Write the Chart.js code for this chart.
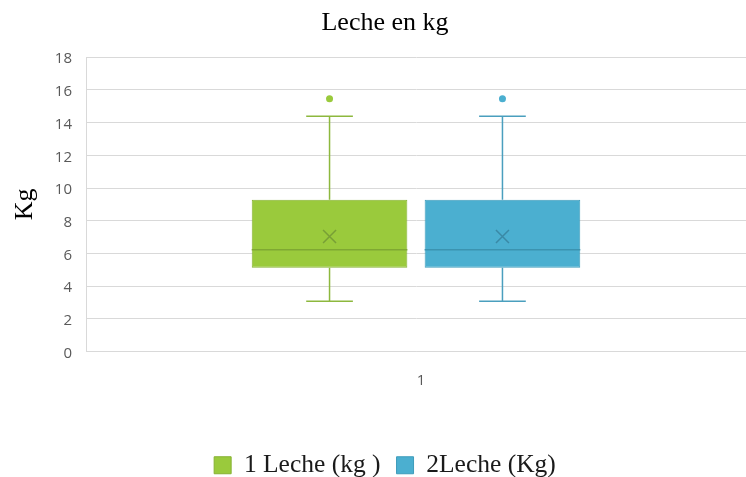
<!DOCTYPE html>
<html>
<head>
<meta charset="utf-8">
<script src="https://cdn.jsdelivr.net/npm/chart.js@4/dist/chart.umd.min.js"></script>
<style>
  html, body { margin: 0; padding: 0; background: #ffffff; }
  #wrap { width: 746px; height: 477px; }
</style>
</head>
<body>
<div id="wrap"><canvas id="c" width="746" height="477"></canvas></div>
<script>
// ---- data ----
const categories = ['1'];
const seriesLabels = ['1 Leche (kg )', '2Leche (Kg)'];
// five-number summary per category: [lower whisker, Q1, median, Q3, upper whisker]
const leche1Box = [[3.08, 5.12, 6.22, 9.28, 14.39]];
const leche1Mean = [7.03];
const leche1Outliers = [[15.46]];
const leche2Box = [[3.08, 5.12, 6.22, 9.28, 14.39]];
const leche2Mean = [7.03];
const leche2Outliers = [[15.46]];
const yTicks = [0, 2, 4, 6, 8, 10, 12, 14, 16, 18];

const styles = [
  { fill: '#9ACA3C', border: '#86B232', line: '#8DB83E', median: '#7FA832', mark: '#789F36' },
  { fill: '#4BAFD0', border: '#3E9CBB', line: '#4A9FBE', median: '#3B93B0', mark: '#3A89A6' }
];

function makeDataset(label, box, mean, outliers, st) {
  return {
    label: label,
    data: box.map(b => [b[1], b[3]]),
    boxStats: box,
    meanVals: mean,
    outlierVals: outliers,
    st: st,
    backgroundColor: st.fill,
    borderColor: st.border,
    borderWidth: 1,
    borderSkipped: false,
    categoryPercentage: 0.524,
    barPercentage: 0.9
  };
}

const boxExtras = {
  id: 'boxExtras',
  afterDatasetsDraw(chart) {
    const ctx = chart.ctx;
    const ys = chart.scales.y;
    chart.data.datasets.forEach((ds, i) => {
      const meta = chart.getDatasetMeta(i);
      const st = ds.st;
      meta.data.forEach((bar, j) => {
        const b = ds.boxStats[j];
        const x = bar.x, w = bar.width;
        const yMin = ys.getPixelForValue(b[0]);
        const yQ1 = ys.getPixelForValue(b[1]);
        const yMed = ys.getPixelForValue(b[2]);
        const yQ3 = ys.getPixelForValue(b[3]);
        const yMax = ys.getPixelForValue(b[4]);
        const cap = w * 0.15;
        ctx.save();
        ctx.strokeStyle = st.line;
        ctx.lineWidth = 1.5;
        ctx.beginPath();
        ctx.moveTo(x, yQ3); ctx.lineTo(x, yMax);
        ctx.moveTo(x - cap, yMax); ctx.lineTo(x + cap, yMax);
        ctx.moveTo(x, yQ1); ctx.lineTo(x, yMin);
        ctx.moveTo(x - cap, yMin); ctx.lineTo(x + cap, yMin);
        ctx.stroke();
        // median
        ctx.strokeStyle = st.median;
        ctx.beginPath();
        ctx.moveTo(x - w / 2, yMed); ctx.lineTo(x + w / 2, yMed);
        ctx.stroke();
        // mean marker (x)
        const yMean = ys.getPixelForValue(ds.meanVals[j]);
        const s = 6.5;
        ctx.strokeStyle = st.mark;
        ctx.lineWidth = 1.5;
        ctx.beginPath();
        ctx.moveTo(x - s, yMean - s); ctx.lineTo(x + s, yMean + s);
        ctx.moveTo(x + s, yMean - s); ctx.lineTo(x - s, yMean + s);
        ctx.stroke();
        // outliers
        ctx.fillStyle = st.fill;
        ds.outlierVals[j].forEach(v => {
          ctx.beginPath();
          ctx.arc(x, ys.getPixelForValue(v), 3.5, 0, Math.PI * 2);
          ctx.fill();
        });
        ctx.restore();
      });
    });
  }
};

new Chart(document.getElementById('c'), {
  type: 'bar',
  data: {
    labels: categories,
    datasets: [
      makeDataset(seriesLabels[0], leche1Box, leche1Mean, leche1Outliers, styles[0]),
      makeDataset(seriesLabels[1], leche2Box, leche2Mean, leche2Outliers, styles[1])
    ]
  },
  options: {
    responsive: false,
    animation: false,
    layout: { padding: { left: 24, right: 0, top: 0, bottom: -11 } },
    plugins: {
      title: {
        display: true,
        text: 'Leche en kg',
        color: '#000000',
        font: { family: '"Liberation Serif", "Times New Roman", serif', size: 26, weight: 'normal' },
        padding: { top: 8, bottom: 18 }
      },
      legend: {
        position: 'bottom',
        labels: {
          color: '#1a1a1a',
          font: { family: '"Liberation Serif", "Times New Roman", serif', size: 25.5 },
          boxWidth: 17,
          boxHeight: 17,
          padding: 16
        }
      },
      tooltip: { enabled: false }
    },
    scales: {
      x: {
        type: 'category',
        offset: true,
        grid: { display: false },
        border: { display: true, color: '#d9d9d9' },
        ticks: { color: '#595959', font: { family: '"Open Sans", sans-serif', size: 15 }, padding: 12, labelOffset: 5 },
        afterFit(scale) { scale.height = 85; }
      },
      y: {
        min: 0,
        max: 18,
        afterBuildTicks(scale) { scale.ticks = yTicks.map(v => ({ value: v })); },
        afterFit(scale) { scale.width = 62; },
        grid: { color: '#d9d9d9', lineWidth: 1, drawTicks: false },
        border: { display: true, color: '#d9d9d9' },
        ticks: { color: '#595959', font: { family: '"Open Sans", sans-serif', size: 15 }, padding: 14, labelOffset: 2 },
        title: {
          display: true,
          text: 'Kg',
          color: '#000000',
          font: { family: '"Liberation Serif", "Times New Roman", serif', size: 26 },
          padding: { top: -14, bottom: 0 }
        }
      }
    }
  },
  plugins: [boxExtras]
});
</script>
</body>
</html>
